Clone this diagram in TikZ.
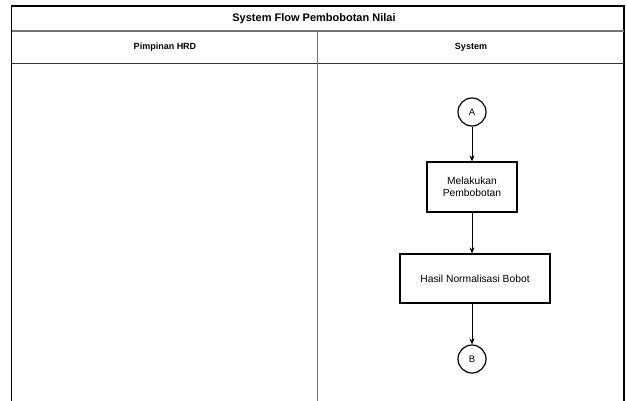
\documentclass[tikz,border=0pt]{standalone}
\usepackage{fontspec}
\setmainfont{Liberation Sans}
\usetikzlibrary{arrows.meta}
\begin{document}
\begin{tikzpicture}[x=1pt,y=-1pt,
  frame/.style={draw=black,line width=1.3pt},
  rule/.style={draw=black!55,line width=1.1pt},
  head/.style={font=\bfseries\fontsize{9}{11}\selectfont},
  proc/.style={draw=black,line width=1.3pt,fill=white,align=center,
    font=\fontsize{10.3}{12.5}\selectfont,inner sep=0pt},
  conn/.style={draw=black,circle,line width=1.2pt,minimum size=28pt,inner sep=0pt,
    font=\fontsize{9.5}{10}\selectfont},
  flow/.style={draw=black,line width=0.7pt,-{Stealth[length=6pt,width=5pt]}}]
\useasboundingbox (0,0) rectangle (627,400);
\fill[white] (0,0) rectangle (627,400);

% swimlane frame (open at the bottom)
\draw[frame] (11.5,402) -- (11.5,6) -- (624,6) -- (624,402);
\draw[rule] (11.5,31) -- (624,31);
\draw[draw=black!80,line width=1pt] (11.5,63.5) -- (624,63.5);
\draw[rule] (317.5,31) -- (317.5,402);

% titles
\node[head,font=\bfseries\fontsize{11}{13}\selectfont] (title) at (314,18.5) {System Flow Pembobotan Nilai};
\node[head] (lane1) at (165,47.5) {Pimpinan HRD};
\node[head] (lane2) at (471,47.5) {System};

% process flow
\node[conn] (a) at (472,112) {A};
\node[proc,minimum width=90pt,minimum height=50pt] (p1) at (472,187) {Melakukan\\Pembobotan};
\node[proc,minimum width=150pt,minimum height=49pt] (p2) at (475,278.5) {Hasil Normalisasi Bobot};
\node[conn] (b) at (472,359) {B};

\draw[flow] (a) -- (p1);
\draw[flow] (p1.south) -- (p1.south |- p2.north);
\draw[flow] (p1.south |- p2.south) -- (b);
\end{tikzpicture}
\end{document}
